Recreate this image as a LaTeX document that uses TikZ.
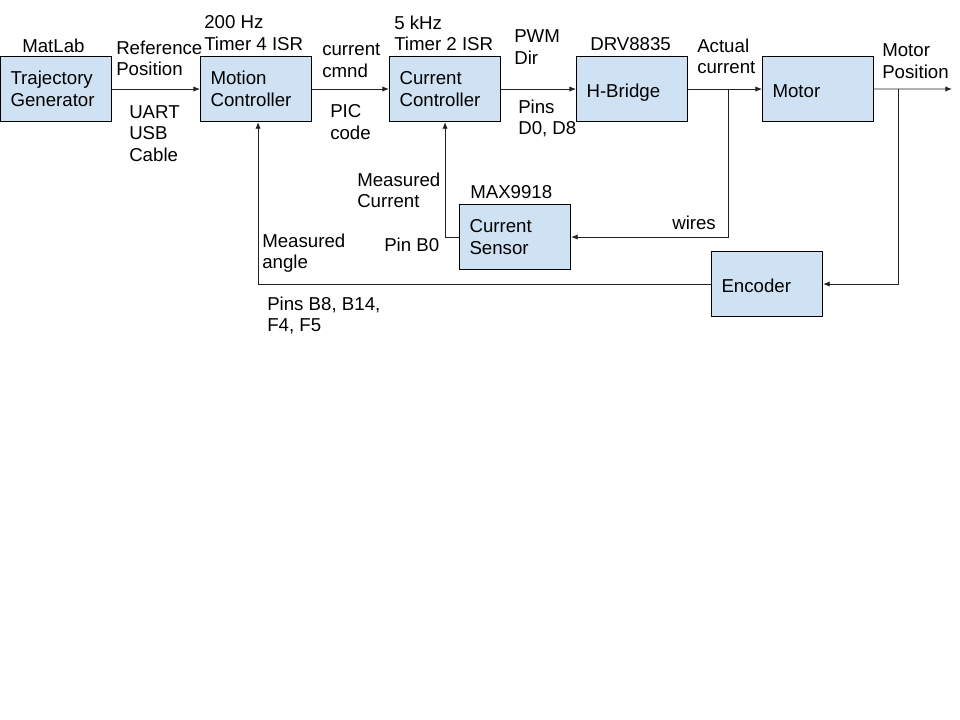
\documentclass[tikz,border=0pt]{standalone}
\usepackage{fontspec}
\setmainfont{Liberation Sans}
\usetikzlibrary{arrows.meta}
\definecolor{boxblue}{HTML}{CFE2F3}
\definecolor{linegray}{HTML}{222222}
\tikzset{
  blk/.style={draw=black, line width=0.8pt, fill=boxblue, anchor=north west,
    minimum width=83.25pt, minimum height=48.75pt, text width=68.25pt,
    inner xsep=7.5pt, inner ysep=0pt, align=left,
    font=\fontsize{14}{16.2}\selectfont},
  oneline/.style={text height=12.2pt, text depth=0pt},
  lbl/.style={anchor=west, align=left, inner sep=0pt, yshift=-1pt,
    font=\fontsize{14}{16.2}\selectfont},
  conn/.style={draw=linegray, line width=0.7pt},
  arr/.style={conn, -{Latex[length=5pt,width=4pt]}}
}
\begin{document}
\begin{tikzpicture}[x=0.75pt,y=-0.75pt]
\useasboundingbox[fill=white] (0,0) rectangle (960,720);
% blocks
\node[blk] (traj)   at (0,56)   {Trajectory Generator};
\node[blk] (motion) at (200,56) {Motion Controller};
\node[blk] (curr)   at (389,56) {Current Controller};
\node[blk,oneline] (hb)     at (576,56) {H-Bridge};
\node[blk,oneline] (motor)  at (762,56) {Motor};
\node[blk] (sensor) at (459,204) {Current Sensor};
\node[blk,oneline] (enc)    at (711,251) {Encoder};
% labels
\node[lbl] (lmat)  at (22,44)   {MatLab};
\node[lbl] (lref)  at (116,57)  {Reference\\Position};
\node[lbl] (luart) at (129,132) {UART\\USB\\Cable};
\node[lbl] (l200)  at (204,32)  {200 Hz\\Timer 4 ISR};
\node[lbl] (lcmd)  at (322,59.5){current\\cmnd};
\node[lbl] (lpic)  at (330,120.5){PIC\\code};
\node[lbl] (l5k)   at (394,32)  {5 kHz\\Timer 2 ISR};
\node[lbl] (lpwm)  at (514,46)  {PWM\\Dir};
\node[lbl] (lpins) at (518,117) {Pins\\D0, D8};
\node[lbl] (ldrv)  at (590,43)  {DRV8835};
\node[lbl] (lact)  at (697,55)  {Actual\\current};
\node[lbl] (lmpos) at (882,60)  {Motor\\Position};
\node[lbl] (lmcur) at (357,189) {Measured\\Current};
\node[lbl] (lmax)  at (470,191) {MAX9918};
\node[lbl] (lpb0)  at (384,243) {Pin B0};
\node[lbl] (lwire) at (672,221) {wires};
\node[lbl] (lang)  at (262,252) {Measured\\angle};
\node[lbl] (lpb8)  at (267,314) {Pins B8, B14,\\F4, F5};
% connectors
\coordinate (out) at (952,89);
\coordinate (j1) at (728,89);
\coordinate (j2) at (898,89);
\draw[arr] (traj.east) -- (motion.west);
\draw[arr] (motion.east) -- (curr.west);
\draw[arr] (curr.east) -- (hb.west);
\draw[arr] (hb.east) -- (motor.west);
\draw[arr] (motor.east) -- (out);
\draw[arr] (j1) |- (sensor.east);
\draw[arr] (sensor.west) -| (curr.south);
\draw[arr] (j2) |- (enc.east);
\draw[arr] (enc.west) -| ([xshift=1.5pt]motion.south);
\end{tikzpicture}
\end{document}
